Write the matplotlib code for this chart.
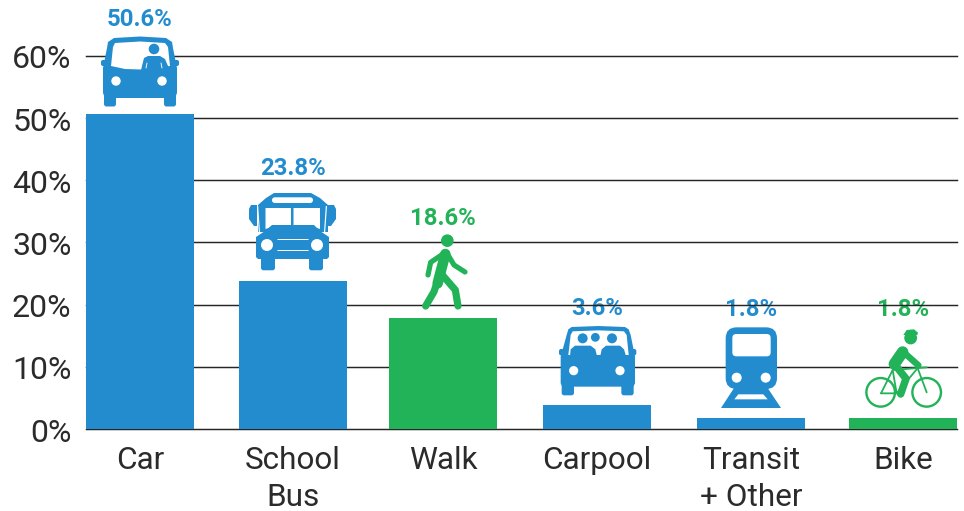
import matplotlib
matplotlib.use("Agg")
import matplotlib.pyplot as plt
from matplotlib.patches import Circle, FancyBboxPatch, Polygon
from matplotlib.lines import Line2D
from matplotlib.transforms import Affine2D, ScaledTranslation

# ---- data
categories = ["Car", "School\nBus", "Walk", "Carpool", "Transit\n+ Other", "Bike"]
bar_values = [50.7, 23.8, 17.9, 3.9, 1.8, 1.8]
value_labels = ["50.6%", "23.8%", "18.6%", "3.6%", "1.8%", "1.8%"]
modes = ["motor", "motor", "active", "motor", "motor", "active"]
y_ticks = [0, 10, 20, 30, 40, 50, 60]

# ---- layout
W, H = 964, 511
BLUE, GREEN = "#238CCF", "#22B258"
colors = {"motor": BLUE, "active": GREEN}
bar_centres = [140, 293, 443, 597, 751, 903]
label_px_y = [19, 168, 218, 308, 309, 309]
TXT = "#2b2b2b"
FONT = "Roboto"

fig = plt.figure(figsize=(W / 100, H / 100), dpi=100)
ax = fig.add_axes([86 / W, (H - 429) / H, 871 / W, 373 / H])
ax.set_xlim(86, 957)
ax.set_ylim(0, 60)
ax.patch.set_visible(False)
for s in ax.spines.values():
    s.set_visible(False)

for t in y_ticks:
    ax.axhline(t, color="#262626", lw=1.05, zorder=2, clip_on=False)
ax.bar(bar_centres, bar_values, width=108, color=[colors[m] for m in modes], zorder=3)

ax.set_yticks(y_ticks)
ax.set_yticklabels([f"{t}%" for t in y_ticks], fontfamily=FONT, fontsize=23, color=TXT)
ax.set_xticks(bar_centres)
ax.set_xticklabels(categories, fontfamily=FONT, fontsize=22.7, color=TXT, linespacing=1.33)
ax.tick_params(length=0, axis="y", pad=10.5)
ax.tick_params(length=0, axis="x", pad=12.4)
for lab in ax.get_yticklabels():
    lab.set_transform(lab.get_transform() + ScaledTranslation(0, -1 / 100, fig.dpi_scale_trans))

pix = Affine2D().scale(1, -1).translate(0, H)

for cx, py, lab, m in zip(bar_centres, label_px_y, value_labels, modes):
    ax.text(cx, py, lab, transform=pix, ha="center", va="center", fontfamily=FONT,
            fontsize=17.2, fontweight="bold", color=colors[m], zorder=1, clip_on=False)


def _add(p, z=5):
    p.set_transform(pix)
    p.set_clip_on(False)
    p.set_zorder(z)
    ax.add_artist(p)


def rrect(x0, y0, x1, y1, r, c, z=5):
    _add(FancyBboxPatch((x0 + r, y0 + r), x1 - x0 - 2 * r, y1 - y0 - 2 * r,
                        boxstyle=f"round,pad={r},rounding_size={r}", fc=c, ec="none"), z)


def circ(x, y, r, c, z=6):
    _add(Circle((x, y), r, fc=c, ec="none"), z)


def poly(pts, c, z=5):
    _add(Polygon(pts, closed=True, fc=c, ec="none"), z)


def stroke(pts, c, lw, z=5, cap="round"):
    xs, ys = zip(*pts)
    _add(Line2D(xs, ys, color=c, lw=lw * 0.72, solid_capstyle=cap, solid_joinstyle="round"), z)


# --- Car
poly([(107, 48), (108, 42), (114, 38), (140, 36.5), (166, 38), (172, 42), (173, 48),
      (177, 68), (177, 93), (175, 98), (105, 98), (103, 93), (103, 68)], BLUE)
rrect(104, 92, 116, 106.5, 2.5, BLUE)
rrect(164, 92, 176, 106.5, 2.5, BLUE)
rrect(101, 60, 106, 66, 2, BLUE)
rrect(174, 60, 179, 66, 2, BLUE)
poly([(113, 47), (115, 43), (140, 41.5), (165, 43), (168, 47), (170, 66), (141, 69.5), (125, 69), (111, 66)], "white", 6)
poly([(141, 70), (144, 58), (148, 56), (160, 56), (165, 59), (168, 66), (170, 70)], BLUE, 7)
stroke([(147, 63), (146, 68)], "white", 0.9, 8)
stroke([(161, 63), (162, 68)], "white", 0.9, 8)
circ(154, 49, 5.3, BLUE, 7)
circ(116, 81, 4.7, "white")
circ(162, 81, 4.7, "white")

# --- School bus
poly([(258, 205), (266, 198), (274, 193), (311, 193), (320, 198), (328, 205), (328, 232), (258, 232)], BLUE)
rrect(272, 197.3, 313, 203, 2.8, "white", 6)
poly([(249, 209), (251, 205), (257, 205), (257, 226), (254, 226), (249, 219)], BLUE)
poly([(336, 209), (334, 205), (328, 205), (328, 226), (331, 226), (336, 219)], BLUE)
poly([(257, 206), (258.2, 206), (260, 232), (258.8, 232)], "white", 6)
poly([(327, 206), (325.8, 206), (324, 232), (325.2, 232)], "white", 6)
poly([(265.5, 208), (291, 208), (291, 227), (272, 227), (265.5, 229)], "white", 6)
poly([(293.5, 208), (320, 208), (320, 229), (314, 227), (293.5, 227)], "white", 6)
poly([(272, 225), (314, 225), (320, 231), (329, 237), (329, 257), (327, 259), (258, 259), (256, 257), (256, 237), (265, 231)], BLUE, 7)
rrect(261, 255, 275, 270.3, 2.5, BLUE)
rrect(309, 255, 323, 270.3, 2.5, BLUE)
circ(267, 245, 6, "white", 8)
circ(317, 245, 6, "white", 8)
stroke([(277, 238.5), (308, 238.5)], "white", 1, 8, "butt")
stroke([(277, 249.5), (308, 249.5)], "white", 1, 8, "butt")

# --- Walker
wx = lambda z: 400 + z / 3
wy = lambda z: 200 + z / 3
P = lambda pts: [(wx(a), wy(b)) for a, b in pts]
circ(wx(142), wy(122), 6.3, GREEN)
stroke(P([(136, 162), (122, 215), (113, 250)]), GREEN, 10.5)
stroke(P([(132, 160), (92, 187), (84, 225)]), GREEN, 5.2)
stroke(P([(140, 158), (162, 195), (195, 216)]), GREEN, 5.2)
stroke(P([(127, 225), (166, 270), (174, 318)]), GREEN, 7.2)
stroke(P([(112, 245), (102, 275), (77, 318)]), GREEN, 7.2)

# --- Carpool
poly(P([(500, 405), (505, 388), (515, 381), (595, 378), (675, 381), (686, 388), (692, 405),
        (705, 470), (705, 550), (700, 560), (487, 560), (482, 550), (482, 470)]), BLUE)
rrect(wx(485), wy(545), wx(522), wy(586), 2.5, BLUE)
rrect(wx(664), wy(545), wx(701), wy(586), 2.5, BLUE)
rrect(wx(477), wy(447), wx(492), wy(466), 2, BLUE)
rrect(wx(694), wy(447), wx(709), wy(466), 2, BLUE)
poly(P([(512, 405), (518, 394), (595, 391), (672, 394), (680, 405), (686, 465), (505, 465)]), "white", 6)
poly(P([(510, 468), (512, 448), (525, 437), (572, 437), (586, 448), (592, 472)]), BLUE, 7)
poly(P([(600, 472), (605, 448), (618, 437), (660, 437), (672, 448), (678, 468)]), BLUE, 7)
circ(wx(548), wy(415), 5, BLUE, 7)
circ(wx(586), wy(412), 4.4, BLUE, 7)
circ(wx(636), wy(415), 5, BLUE, 7)
circ(wx(521), wy(512), 4.6, "white", 7)
circ(wx(660), wy(512), 4.6, "white", 7)

# --- Train
tx = lambda z: 700 + z / 3
ty = lambda z: 290 + z / 3
Q = lambda pts: [(tx(a), ty(b)) for a, b in pts]
poly(Q([(108, 285), (197, 285), (243, 354), (63, 354)]), BLUE)
poly(Q([(115, 313), (190, 313), (203, 328), (103, 328)]), "white", 6)
rrect(tx(77), ty(112), tx(231), ty(297), 11, BLUE, 6)
rrect(tx(97), ty(132), tx(212), ty(199), 4, "white", 7)
circ(tx(110), ty(263), 5, "white", 7)
circ(tx(197), ty(263), 5, "white", 7)

# --- Bike
for zx in (542, 680):
    _add(Circle((tx(zx), ty(307)), 14.3, fc="none", ec=GREEN, lw=1.7), 5)
stroke(Q([(543, 310), (590, 310), (650, 238)]), GREEN, 1.8)
stroke(Q([(543, 310), (578, 240), (590, 310)]), GREEN, 1.8)
stroke(Q([(578, 240), (680, 232)]), GREEN, 1.8)
stroke(Q([(652, 232), (680, 307)]), GREEN, 1.8)
stroke(Q([(608, 186), (583, 222)]), GREEN, 11.5)
stroke(Q([(610, 186), (655, 226)]), GREEN, 6.5)
stroke(Q([(585, 224), (618, 266), (602, 312)]), GREEN, 7.5)
circ(tx(632), ty(144), 6.4, GREEN)
poly(Q([(610, 135), (620, 120), (642, 118), (654, 128), (652, 135)]), GREEN, 6)

fig.savefig("out.png", dpi=100)
